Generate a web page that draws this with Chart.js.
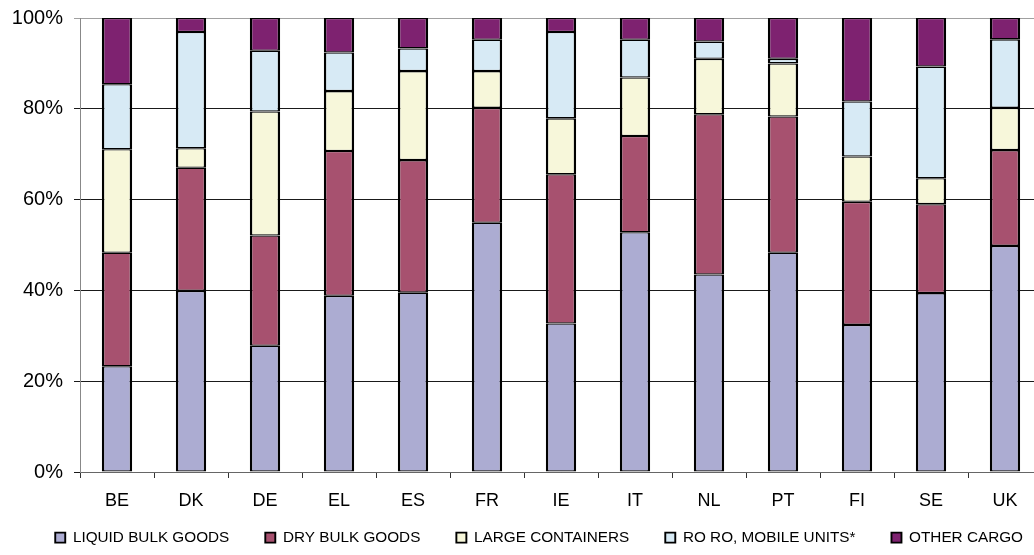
<!DOCTYPE html>
<html>
<head>
<meta charset="utf-8">
<script src="https://cdn.jsdelivr.net/npm/chart.js@4/dist/chart.umd.min.js"></script>
<style>
html,body{margin:0;padding:0;overflow:hidden;background:#fff;}
#wrap{position:absolute;left:0;top:0;width:1046px;height:555px;}
</style>
</head>
<body>
<div id="wrap"><canvas id="c"></canvas></div>
<script>
const categories = ['BE','DK','DE','EL','ES','FR','IE','IT','NL','PT','FI','SE','UK'];
const liquidBulk = [23.3,39.9,27.8,38.8,39.5,54.9,32.7,52.8,43.5,48.3,32.4,39.4,49.8];
const dryBulk    = [25.0,27.1,24.3,31.9,29.2,25.3,32.9,21.2,35.3,30.0,27.1,19.6,21.1];
const largeCont  = [22.8,4.3,27.3,13.2,19.6,8.1,12.3,12.9,12.2,11.7,10.0,5.7,9.3];
const roRo       = [14.3,25.6,13.4,8.5,5.0,6.9,19.0,8.3,3.8,1.0,12.1,24.6,15.1];
const otherCargo = [14.6,3.1,7.2,7.6,6.7,4.8,3.1,4.8,5.2,9.0,18.4,10.7,4.7];
const seriesNames = ['LIQUID BULK GOODS','DRY BULK GOODS','LARGE CONTAINERS','RO RO, MOBILE UNITS*','OTHER CARGO'];
const yTicks = [0,20,40,60,80,100];

const colors = ['#ACACD2','#A7516F','#F7F7DA','#D7EAF5','#7E2270'];
const seriesData = [liquidBulk, dryBulk, largeCont, roRo, otherCargo];

const datasets = seriesNames.map((n,i)=>({
  label: n,
  data: seriesData[i],
  backgroundColor: colors[i],
  borderColor: '#000',
  borderWidth: {left:2.5,right:2.5,top:1.3,bottom:1.3},
  borderSkipped: false,
  barPercentage: 0.41,
  categoryPercentage: 1.0
}));

const legendShift = {
  id: 'legendShift',
  afterLayout(chart) {
    const lg = chart.legend;
    if (lg) {
      lg.left += 17; lg.right += 17;
      lg.top -= 28;
    }
  }
};

new Chart(document.getElementById('c'), {
  type: 'bar',
  data: { labels: categories, datasets },
  plugins: [legendShift],
  options: {
    responsive: true,
    maintainAspectRatio: false,
    animation: false,
    layout: { padding: { left: 0, right: 4, top: 18, bottom: 0 } },
    plugins: {
      tooltip: { enabled: false },
      legend: {
        position: 'bottom',
        align: 'end',
        maxHeight: 33,
        labels: {
          boxWidth: 10, boxHeight: 10,
          color: '#000',
          font: { family: 'Liberation Sans, Arial, sans-serif', size: 15.3 },
          padding: 36
        }
      }
    },
    scales: {
      x: {
        stacked: true,
        offset: true,
        border: { color: '#666', width: 1 },
        grid: { drawOnChartArea: false, drawTicks: true, tickLength: 6, color: '#333', offset: true },
        ticks: { color: '#000', padding: 12, font: { family: 'Liberation Sans, Arial, sans-serif', size: 18 }, maxRotation: 0 },
        afterFit: s => { s.height = 50; }
      },
      y: {
        stacked: true,
        min: 0, max: 100,
        afterBuildTicks: s => { s.ticks = yTicks.map(v=>({value:v})); },
        border: { color: '#888', width: 1 },
        grid: {
          tickLength: 6,
          color: ctx => (ctx.tick && ctx.tick.value === 100) ? '#a0a0a0' : '#1a1a1a',
          lineWidth: 1
        },
        ticks: {
          color: '#000', padding: 11,
          font: { family: 'Liberation Sans, Arial, sans-serif', size: 20 },
          callback: v => v + '%'
        },
        afterFit: s => { s.width = 80; s.paddingTop = 0; s.paddingBottom = 0; }
      }
    }
  }
});
</script>
</body>
</html>
